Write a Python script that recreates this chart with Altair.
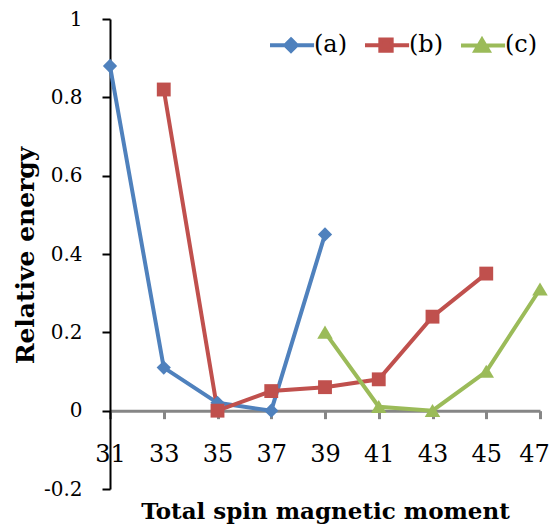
import altair as alt
import pandas as pd

# ---- data ----
series_names = ["(a)", "(b)", "(c)"]
a_x = [31, 33, 35, 37, 39]
a_y = [0.88, 0.11, 0.02, 0.0, 0.45]
b_x = [33, 35, 37, 39, 41, 43, 45]
b_y = [0.82, 0.0, 0.05, 0.06, 0.08, 0.24, 0.35]
c_x = [39, 41, 43, 45, 47]
c_y = [0.20, 0.01, 0.0, 0.10, 0.31]
x_ticks = [31, 33, 35, 37, 39, 41, 43, 45, 47]
y_ticks = [-0.2, 0, 0.2, 0.4, 0.6, 0.8, 1]
colors = ["#4F81BD", "#C0504D", "#9BBB59"]

rows = []
for name, xs, ys in zip(series_names, [a_x, b_x, c_x], [a_y, b_y, c_y]):
    for xv, yv in zip(xs, ys):
        rows.append({"series": name, "moment": xv, "energy": yv})
df = pd.DataFrame(rows)

W, H = 430, 470
FONT = "DejaVu Serif"
x_offset = -H * 0.2 / 1.2

x_scale = alt.Scale(domain=[31, 47], nice=False, zero=False)
y_scale = alt.Scale(domain=[-0.2, 1], nice=False, zero=False)
col_scale = alt.Scale(domain=series_names, range=colors)

marker_paths = [
    "M0,-0.34L0.34,0L0,0.34L-0.34,0Z",
    "M-0.33,-0.33H0.33V0.33H-0.33Z",
    "M0,-0.32L0.37,0.3H-0.37Z",
]
legend_marker_paths = [
    "M0,-0.27L0.27,0L0,0.27L-0.27,0Z",
    "M-0.27,-0.27H0.27V0.27H-0.27Z",
    "M0,-0.27L0.31,0.25H-0.31Z",
]
legend_paths = ["M-1,0H1.1" + p for p in legend_marker_paths]

x_enc = alt.X(
    "moment:Q",
    scale=x_scale,
    axis=alt.Axis(
        values=x_ticks, format="d", offset=x_offset, grid=False,
        domainColor="#868686", domainWidth=3,
        tickColor="#868686", tickWidth=3, tickSize=8,
        labelFont=FONT, labelFontSize=24, labelColor="#000",
        labelPadding=24, labelFlush=False, labelOverlap=False,
        labelOffset={"condition": {"test": "datum.value == 47", "value": -6}, "value": 0},
        title="Total spin magnetic moment", titleFont=FONT,
        titleFontWeight="bold", titleFontSize=23, titleColor="#000",
        titleY=108, titleBaseline="alphabetic",
    ),
)
y_enc = alt.Y(
    "energy:Q",
    scale=y_scale,
    axis=alt.Axis(
        values=y_ticks, grid=False, labelExpr="'' + datum.value",
        domainColor="#000", domainWidth=2,
        tickColor="#000", tickWidth=2, tickSize=8,
        labelFont=FONT, labelFontSize=20, labelColor="#000",
        labelPadding=20,
        title="Relative energy", titleFont=FONT, titleFontWeight="bold",
        titleFontSize=25, titleColor="#000",
        titleX=-77, titleY=236, titleBaseline="alphabetic",
    ),
)

base = alt.Chart(df)

lines = base.mark_line(strokeWidth=4).encode(
    x=x_enc, y=y_enc,
    color=alt.Color("series:N", scale=col_scale, legend=None),
    detail="series:N",
)

points = base.mark_point(filled=True, size=1764, opacity=1, strokeWidth=0).encode(
    x=x_enc, y=y_enc,
    color=alt.Color("series:N", scale=col_scale, legend=None),
    shape=alt.Shape("series:N", scale=alt.Scale(domain=series_names, range=marker_paths), legend=None),
)

leg = alt.Legend(
    title=None, orient="none", legendX=158, legendY=3, direction="horizontal",
    symbolSize=1764, symbolStrokeWidth=4, symbolOpacity=1,
    labelFont=FONT, labelFontSize=24, labelColor="#000", labelOffset=0,
    columnPadding=9, padding=0,
)

legend_layer = base.mark_point(filled=True, size=1764, opacity=0, strokeWidth=4).encode(
    x=x_enc, y=y_enc,
    fill=alt.Fill("series:N", scale=col_scale, legend=leg),
    stroke=alt.Stroke("series:N", scale=col_scale, legend=leg),
    shape=alt.Shape("series:N", scale=alt.Scale(domain=series_names, range=legend_paths), legend=leg),
)

chart = (
    alt.layer(lines, points, legend_layer)
    .resolve_scale(shape="independent", fill="independent", stroke="independent")
    .properties(
        width=W, height=H,
        autosize=alt.AutoSizeParams(type="none"),
        padding={"left": 102, "top": 11, "right": 9, "bottom": 37},
        background="white",
    )
    .configure_view(stroke=None)
)

chart.save("out.html", embed_options={"renderer": "svg", "actions": False})
